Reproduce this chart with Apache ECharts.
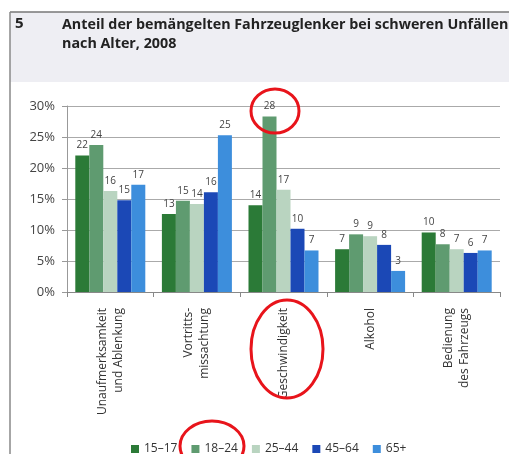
<!DOCTYPE html>
<html lang="de">
<head>
<meta charset="UTF-8">
<title>Anteil der bemängelten Fahrzeuglenker</title>
<script src="https://cdn.jsdelivr.net/npm/echarts@6/dist/echarts.min.js"></script>
<style>
  html, body { margin: 0; padding: 0; background: #fff; }
  #chart { width: 509px; height: 454px; }
</style>
</head>
<body>
<div id="chart"></div>
<script>
// Kategorien und Altersgruppen
var categories = [
  'Unaufmerksamkeit\nund Ablenkung',
  'Vortritts-\nmissachtung',
  'Geschwindigkeit',
  'Alkohol',
  'Bedienung\ndes Fahrzeugs'
];
var ageGroups = ['15–17', '18–24', '25–44', '45–64', '65+'];
var colors = ['#2b7a37', '#5f9b70', '#b9d4c0', '#1b48b6', '#3d8edc'];

// Werte in % (je Altersgruppe)
var v15_17 = [22.0, 12.6, 14.0, 6.9, 9.6];
var v18_24 = [23.7, 14.7, 28.3, 9.3, 7.7];
var v25_44 = [16.3, 14.2, 16.5, 9.0, 6.9];
var v45_64 = [14.8, 16.1, 10.2, 7.6, 6.3];
var v65plus = [17.3, 25.3, 6.7, 3.4, 6.7];
var yTicks = [0, 5, 10, 15, 20, 25, 30];

var values = [v15_17, v18_24, v25_44, v45_64, v65plus];

var font = '"Open Sans", "DejaVu Sans", sans-serif';
var chart = echarts.init(document.getElementById('chart'));

var series = ageGroups.map(function (name, i) {
  return {
    name: name,
    type: 'bar',
    barWidth: 14,
    barGap: '0%',
    itemStyle: { color: colors[i] },
    label: {
      show: true,
      position: 'top',
      distance: 5,
      fontSize: 10,
      color: '#444',
      fontFamily: font,
      formatter: function (p) { return Math.round(p.value); }
    },
    data: values[i]
  };
});

var option = {
  animation: false,
  textStyle: { fontFamily: font },
  grid: { left: 67, right: 9, top: 106, bottom: 162 },
  legend: {
    data: ageGroups,
    left: 126,
    top: 438,
    itemWidth: 8,
    itemHeight: 8,
    itemGap: 14,
    icon: 'rect',
    textStyle: { fontSize: 12, color: '#333', fontFamily: font }
  },
  xAxis: {
    type: 'category',
    data: categories,
    axisLine: { lineStyle: { color: '#888' } },
    axisTick: { show: true, length: 5, lineStyle: { color: '#888' } },
    axisLabel: {
      rotate: 90,
      margin: 16,
      fontSize: 12,
      lineHeight: 16,
      color: '#333',
      fontFamily: font
    }
  },
  yAxis: {
    type: 'value',
    min: yTicks[0],
    max: yTicks[yTicks.length - 1],
    interval: 5,
    axisLine: { show: true, lineStyle: { color: '#999' } },
    axisTick: { show: true, length: 5, lineStyle: { color: '#999' } },
    axisLabel: {
      margin: 12,
      fontSize: 13,
      color: '#444',
      fontFamily: font,
      formatter: '{value}%'
    },
    splitLine: { lineStyle: { color: '#aaa', width: 1 } }
  },
  graphic: [
    // Kopfbereich
    { type: 'rect', z: -10, shape: { x: 10, y: 12, width: 500, height: 70 },
      style: { fill: '#eeeef3', stroke: null } },
    { type: 'line', shape: { x1: 10, y1: 12, x2: 509, y2: 12 },
      style: { stroke: '#777', lineWidth: 1.5 } },
    { type: 'line', shape: { x1: 10, y1: 12, x2: 10, y2: 454 },
      style: { stroke: '#888', lineWidth: 1.5 } },
    { type: 'text', left: 15, top: 16,
      style: { text: '5', font: 'bold 15px ' + font, fill: '#222' } },
    { type: 'text', left: 62, top: 15,
      style: { text: 'Anteil der bemängelten Fahrzeuglenker bei schweren Unfällen\nnach Alter, 2008',
        font: 'bold 14.3px ' + font, lineHeight: 19, fill: '#222' } },
    // rote Markierungen
    { type: 'ellipse', z: 100, shape: { cx: 275, cy: 111, rx: 24, ry: 22 },
      style: { fill: null, stroke: '#e8141b', lineWidth: 3 } },
    { type: 'ellipse', z: 100, shape: { cx: 287, cy: 349, rx: 36, ry: 49 },
      style: { fill: null, stroke: '#e8141b', lineWidth: 3 } },
    { type: 'ellipse', z: 100, shape: { cx: 212, cy: 446, rx: 32, ry: 25 },
      style: { fill: null, stroke: '#e8141b', lineWidth: 3 } }
  ],
  series: series
};

chart.setOption(option);
</script>
</body>
</html>
